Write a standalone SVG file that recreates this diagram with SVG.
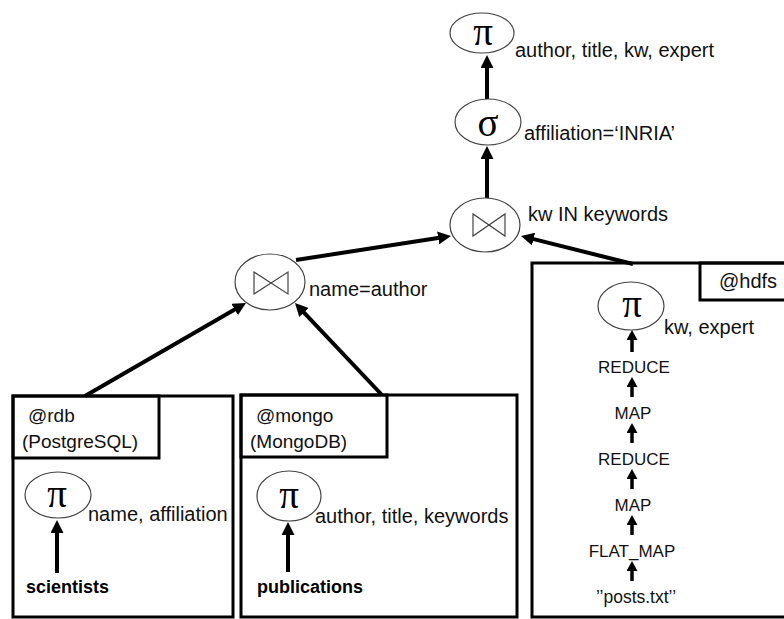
<svg xmlns="http://www.w3.org/2000/svg" width="784" height="619" viewBox="0 0 784 619">
<style>
  .op { fill: #fff; stroke: #444; stroke-width: 1.2; }
  .sym { font-family: "Liberation Serif", "Times New Roman", serif; font-size: 39px; fill: #000; text-anchor: middle; }
  .lbl { font-family: "Liberation Sans", Arial, sans-serif; font-size: 20px; fill: #111; }
  .hdr { font-family: "Liberation Sans", Arial, sans-serif; font-size: 19px; fill: #111; }
  .caps { font-family: "Liberation Sans", Arial, sans-serif; font-size: 17px; fill: #111; text-anchor: middle; }
  .src { font-family: "Liberation Sans", Arial, sans-serif; font-size: 18px; font-weight: bold; fill: #000; }
  .box { fill: none; stroke: #000; stroke-width: 3; }
  .bow { fill: none; stroke: #444; stroke-width: 1.2; stroke-linejoin: miter; }
  .edge { stroke: #000; stroke-width: 4; fill: none; }
  .sedge { stroke: #000; stroke-width: 3.5; fill: none; }
</style>
<defs>
  <marker id="ah" markerUnits="userSpaceOnUse" markerWidth="13" markerHeight="13" refX="3" refY="6.5" orient="auto">
    <path d="M0,0 L13,6.5 L0,13 z" fill="#000"/>
  </marker>
  <marker id="sah" markerUnits="userSpaceOnUse" markerWidth="11" markerHeight="11" refX="2" refY="5.5" orient="auto">
    <path d="M0,0 L10,5.5 L0,11 z" fill="#000"/>
  </marker>
</defs>
<rect width="784" height="619" fill="#fff"/>

<!-- site boxes -->
<g id="site-rdb">
  <rect class="box" x="13" y="396" width="220" height="221"/>
  <rect class="box" x="13" y="396" width="146" height="62"/>
  <text class="hdr" x="28" y="422">@rdb</text>
  <text class="hdr" x="22" y="448">(PostgreSQL)</text>
</g>
<g id="site-mongo">
  <rect class="box" x="241" y="395" width="276" height="222"/>
  <rect class="box" x="241" y="395" width="146" height="62"/>
  <text class="hdr" x="256" y="422">@mongo</text>
  <text class="hdr" x="250" y="448">(MongoDB)</text>
</g>
<g id="site-hdfs">
  <rect class="box" x="532" y="263" width="256" height="354"/>
  <rect class="box" x="700" y="263" width="88" height="37"/>
  <text class="lbl" x="719" y="288">@hdfs</text>
</g>

<!-- connectors -->
<g id="connectors">
  <line class="edge" x1="487" y1="100" x2="487" y2="65" marker-end="url(#ah)"/>
  <line class="edge" x1="487" y1="198" x2="487" y2="156" marker-end="url(#ah)"/>
  <line class="edge" x1="296" y1="260" x2="441.1" y2="237.5" marker-end="url(#ah)"/>
  <line class="edge" x1="633" y1="264" x2="530.7" y2="238.4" marker-end="url(#ah)"/>
  <line class="edge" x1="85" y1="396" x2="237.3" y2="308" marker-end="url(#ah)"/>
  <line class="edge" x1="382" y1="395" x2="301.9" y2="310.3" marker-end="url(#ah)"/>
  <line class="edge" x1="57" y1="573" x2="57" y2="530" marker-end="url(#ah)"/>
  <line class="edge" x1="288" y1="572" x2="288" y2="532" marker-end="url(#ah)"/>
  <line class="sedge" x1="632" y1="352" x2="632" y2="338" marker-end="url(#sah)"/>
  <line class="sedge" x1="632" y1="397" x2="632" y2="385" marker-end="url(#sah)"/>
  <line class="sedge" x1="632" y1="443" x2="632" y2="431" marker-end="url(#sah)"/>
  <line class="sedge" x1="632" y1="489" x2="632" y2="477" marker-end="url(#sah)"/>
  <line class="sedge" x1="632" y1="535" x2="632" y2="523" marker-end="url(#sah)"/>
  <line class="sedge" x1="632" y1="581" x2="632" y2="569" marker-end="url(#sah)"/>
</g>

<!-- operators -->
<g id="proj-top">
  <ellipse class="op" cx="482" cy="33" rx="32" ry="20"/>
  <text class="sym" x="483" y="45">π</text>
  <text class="lbl" x="515" y="57">author, title, kw, expert</text>
</g>
<g id="select">
  <ellipse class="op" cx="488" cy="122" rx="33" ry="23"/>
  <text class="sym" x="488" y="136">σ</text>
  <text class="lbl" x="524" y="140">affiliation=‘INRIA’</text>
</g>
<g id="join-top">
  <ellipse class="op" cx="485" cy="225" rx="35" ry="27"/>
  <path class="bow" d="M473,214 L473,236 L505,214 L505,236 Z"/>
  <text class="lbl" x="528" y="221">kw IN keywords</text>
</g>
<g id="join-left">
  <ellipse class="op" cx="270" cy="282" rx="35" ry="28"/>
  <path class="bow" d="M254,272 L254,294 L288,272 L288,294 Z"/>
  <text class="lbl" x="309" y="296">name=author</text>
</g>
<g id="proj-rdb">
  <ellipse class="op" cx="58" cy="495" rx="33" ry="23"/>
  <text class="sym" x="57" y="507">π</text>
  <text class="lbl" x="88" y="521">name, affiliation</text>
</g>
<g id="scientists">
  <text class="src" x="26" y="593">scientists</text>
</g>
<g id="proj-mongo">
  <ellipse class="op" cx="289" cy="496" rx="32" ry="25"/>
  <text class="sym" x="289" y="508">π</text>
  <text class="lbl" x="315" y="523">author, title, keywords</text>
</g>
<g id="publications">
  <text class="src" x="257" y="593">publications</text>
</g>
<g id="proj-hdfs">
  <ellipse class="op" cx="631" cy="306" rx="33" ry="24"/>
  <text class="sym" x="632" y="317">π</text>
  <text class="lbl" x="664" y="334">kw, expert</text>
</g>
<g id="reduce1"><text class="caps" x="634" y="373">REDUCE</text></g>
<g id="map1"><text class="caps" x="633" y="419">MAP</text></g>
<g id="reduce2"><text class="caps" x="634" y="465">REDUCE</text></g>
<g id="map2"><text class="caps" x="633" y="511">MAP</text></g>
<g id="flatmap"><text class="caps" x="632" y="557">FLAT_MAP</text></g>
<g id="posts"><text class="caps" x="636" y="603" style="font-size:17.5px">’’posts.txt’’</text></g>
</svg>
